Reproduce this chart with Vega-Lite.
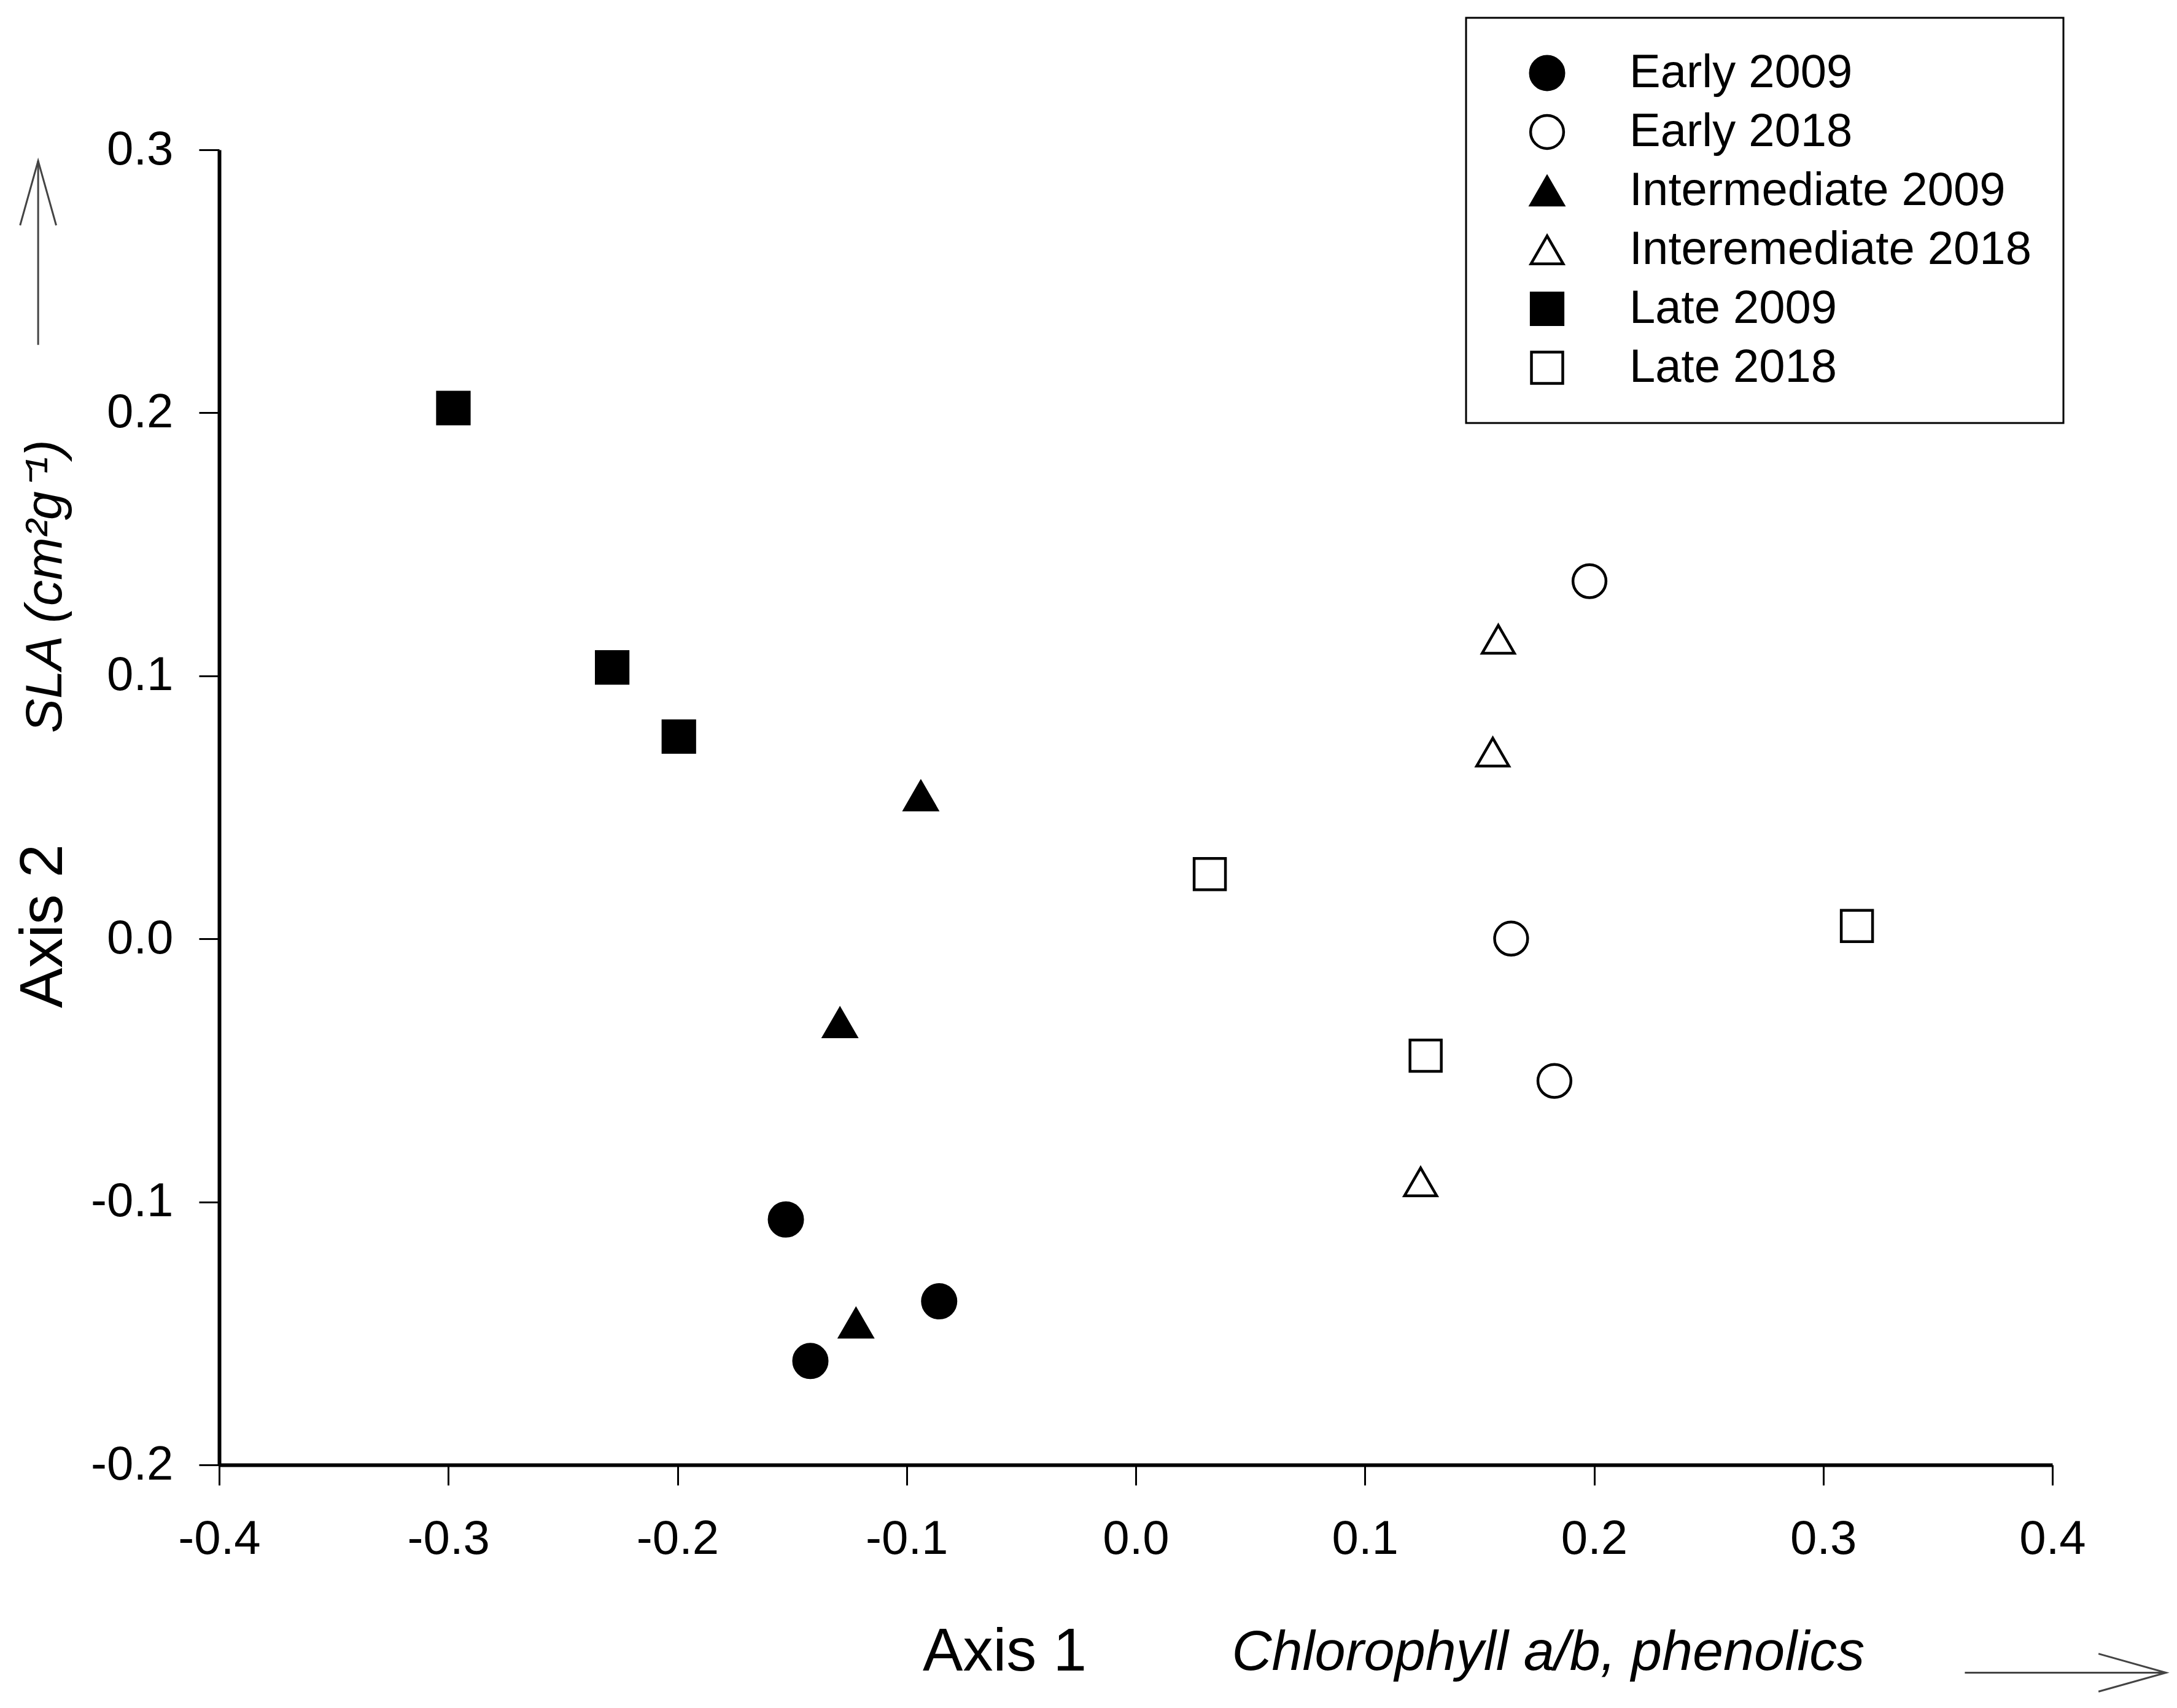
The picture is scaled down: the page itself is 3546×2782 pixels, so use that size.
{
  "$schema": "https://vega.github.io/schema/vega-lite/v6.json",
  "autosize": {"type": "none"},
  "padding": {"left": 357, "top": 244, "right": 203, "bottom": 396},
  "width": 2986,
  "height": 2142,
  "background": "white",
  "config": {
    "view": {"stroke": null},
    "font": "Liberation Sans",
    "legend": {
      "strokeColor": "black",
      "strokeWidth": 3,
      "fillColor": "white",
      "padding": 52,
      "rowPadding": 20,
      "symbolOffset": 42,
      "labelOffset": 96,
      "labelFont": "Liberation Sans",
      "labelFontSize": 76,
      "labelColor": "black",
      "labelLimit": 2000,
      "symbolStrokeColor": "black",
      "symbolStrokeWidth": 4.5,
      "symbolOpacity": 1
    }
  },
  "layer": [
    {
      "data": {
        "values": [
          {"x": -0.1527, "y": -0.1067, "group": "Early 2009"},
          {"x": -0.0858, "y": -0.1378, "group": "Early 2009"},
          {"x": -0.142, "y": -0.1605, "group": "Early 2009"},
          {"x": 0.198, "y": 0.136, "group": "Early 2018"},
          {"x": 0.1638, "y": 0.0001, "group": "Early 2018"},
          {"x": 0.1827, "y": -0.054, "group": "Early 2018"},
          {"x": -0.0938, "y": 0.0544, "group": "Intermediate 2009"},
          {"x": -0.1291, "y": -0.0319, "group": "Intermediate 2009"},
          {"x": -0.1221, "y": -0.1461, "group": "Intermediate 2009"},
          {"x": 0.1582, "y": 0.1139, "group": "Interemediate 2018"},
          {"x": 0.1558, "y": 0.071, "group": "Interemediate 2018"},
          {"x": 0.1243, "y": -0.0924, "group": "Interemediate 2018"},
          {"x": -0.2978, "y": 0.2018, "group": "Late 2009"},
          {"x": -0.2285, "y": 0.1032, "group": "Late 2009"},
          {"x": -0.1994, "y": 0.0769, "group": "Late 2009"},
          {"x": 0.0323, "y": 0.0246, "group": "Late 2018"},
          {"x": 0.1265, "y": -0.0444, "group": "Late 2018"},
          {"x": 0.3147, "y": 0.0049, "group": "Late 2018"}
        ]
      },
      "mark": {"type": "point", "filled": true, "stroke": "black", "strokeWidth": 4.5, "opacity": 1, "strokeJoin": "miter"},
      "encoding": {
        "x": {
          "field": "x", "type": "quantitative",
          "scale": {"domain": [-0.4, 0.4], "nice": false, "zero": false},
          "axis": {
            "title": "Axis 1",
            "values": [-0.4, -0.3, -0.2, -0.1, 0, 0.1, 0.2, 0.3, 0.4],
            "labelExpr": "replace(format(datum.value, '.1f'), '\u2212', '-')",
            "grid": false,
            "tickSize": 33, "tickWidth": 3, "tickColor": "black",
            "domainWidth": 6, "domainColor": "black",
            "labelFont": "Liberation Sans", "labelFontSize": 78, "labelColor": "black",
            "labelPadding": 49, "labelFlush": false, "labelOverlap": false,
            "titleFont": "Liberation Sans", "titleFontSize": 98, "titleFontWeight": "normal", "titleColor": "black",
            "titleX": 1279, "titleY": 334, "titleAlign": "center", "titleBaseline": "alphabetic"
          }
        },
        "y": {
          "field": "y", "type": "quantitative",
          "scale": {"domain": [-0.2, 0.3], "nice": false, "zero": false},
          "axis": {
            "title": "Axis 2",
            "values": [-0.2, -0.1, 0, 0.1, 0.2, 0.3],
            "labelExpr": "replace(format(datum.value, '.1f'), '\u2212', '-')",
            "grid": false,
            "tickSize": 33, "tickWidth": 3, "tickColor": "black",
            "domainWidth": 6, "domainColor": "black",
            "labelFont": "Liberation Sans", "labelFontSize": 78, "labelColor": "black",
            "labelPadding": 42, "labelFlush": false, "labelOverlap": false,
            "titleFont": "Liberation Sans", "titleFontSize": 98, "titleFontWeight": "normal", "titleColor": "black",
            "titleX": -257, "titleY": 1264, "titleAngle": 270, "titleAlign": "center", "titleBaseline": "alphabetic"
          }
        },
        "shape": {
          "field": "group", "type": "nominal",
          "scale": {
            "domain": ["Early 2009", "Early 2018", "Intermediate 2009", "Interemediate 2018", "Late 2009", "Late 2018"],
            "range": ["circle", "circle", "triangle-up", "triangle-up", "square", "square"]
          },
          "legend": {"title": null, "orient": "none", "legendX": 2031, "legendY": -215,
            "encode": {"symbols": {"update": {"stroke": {"value": "black"}, "strokeWidth": {"value": 4.5}, "opacity": {"value": 1}}}}}
        },
        "fill": {
          "field": "group", "type": "nominal",
          "scale": {
            "domain": ["Early 2009", "Early 2018", "Intermediate 2009", "Interemediate 2018", "Late 2009", "Late 2018"],
            "range": ["black", "white", "black", "white", "black", "white"]
          },
          "legend": {"title": null, "orient": "none", "legendX": 2031, "legendY": -215,
            "encode": {"symbols": {"update": {"stroke": {"value": "black"}, "strokeWidth": {"value": 4.5}, "opacity": {"value": 1}}}}}
        },
        "size": {
          "field": "group", "type": "nominal",
          "scale": {
            "domain": ["Early 2009", "Early 2018", "Intermediate 2009", "Interemediate 2018", "Late 2009", "Late 2018"],
            "range": [2970, 2600, 2000, 3250, 2860, 2550]
          },
          "legend": {"title": null, "orient": "none", "legendX": 2031, "legendY": -215,
            "encode": {"symbols": {"update": {"stroke": {"value": "black"}, "strokeWidth": {"value": 4.5}, "opacity": {"value": 1}}}}}
        }
      }
    },
    {
      "data": {"values": [{"label": "SLA (cm²g⁻¹)"}]},
      "mark": {"type": "text", "angle": 270, "font": "Liberation Sans", "fontStyle": "italic", "fontSize": 84, "align": "center", "baseline": "middle", "color": "black"},
      "encoding": {
        "x": {"datum": -0.4756, "type": "quantitative"},
        "y": {"datum": 0.134, "type": "quantitative"},
        "text": {"field": "label", "type": "nominal"}
      }
    },
    {
      "data": {"values": [{"label": "Chlorophyll a/b, phenolics"}]},
      "mark": {"type": "text", "font": "Liberation Sans", "fontStyle": "italic", "fontSize": 90, "align": "center", "baseline": "alphabetic", "color": "black"},
      "encoding": {
        "x": {"datum": 0.18, "type": "quantitative"},
        "y": {"datum": -0.278, "type": "quantitative"},
        "text": {"field": "label", "type": "nominal"}
      }
    },
    {
      "data": {"values": [{"arrow": "up"}]},
      "mark": {"type": "rule", "color": "#444", "strokeWidth": 3},
      "encoding": {
        "x": {"datum": -0.479, "type": "quantitative"},
        "y": {"datum": 0.2958, "type": "quantitative"},
        "y2": {"datum": 0.2258}
      }
    },
    {
      "data": {"values": [{"arrow": "up"}]},
      "mark": {"type": "point", "shape": "M -0.28 1 L 0 0 L 0.28 1", "size": 44100, "filled": false, "stroke": "#444", "strokeWidth": 3, "opacity": 1},
      "encoding": {
        "x": {"datum": -0.479, "type": "quantitative"},
        "y": {"datum": 0.2958, "type": "quantitative"}
      }
    },
    {
      "data": {"values": [{"arrow": "right"}]},
      "mark": {"type": "rule", "color": "#444", "strokeWidth": 3},
      "encoding": {
        "x": {"datum": 0.3618, "type": "quantitative"},
        "x2": {"datum": 0.4496},
        "y": {"datum": -0.279, "type": "quantitative"}
      }
    },
    {
      "data": {"values": [{"arrow": "right"}]},
      "mark": {"type": "point", "shape": "M -1 -0.28 L 0 0 L -1 0.28", "size": 48400, "filled": false, "stroke": "#444", "strokeWidth": 3, "opacity": 1},
      "encoding": {
        "x": {"datum": 0.4496, "type": "quantitative"},
        "y": {"datum": -0.279, "type": "quantitative"}
      }
    }
  ]
}
